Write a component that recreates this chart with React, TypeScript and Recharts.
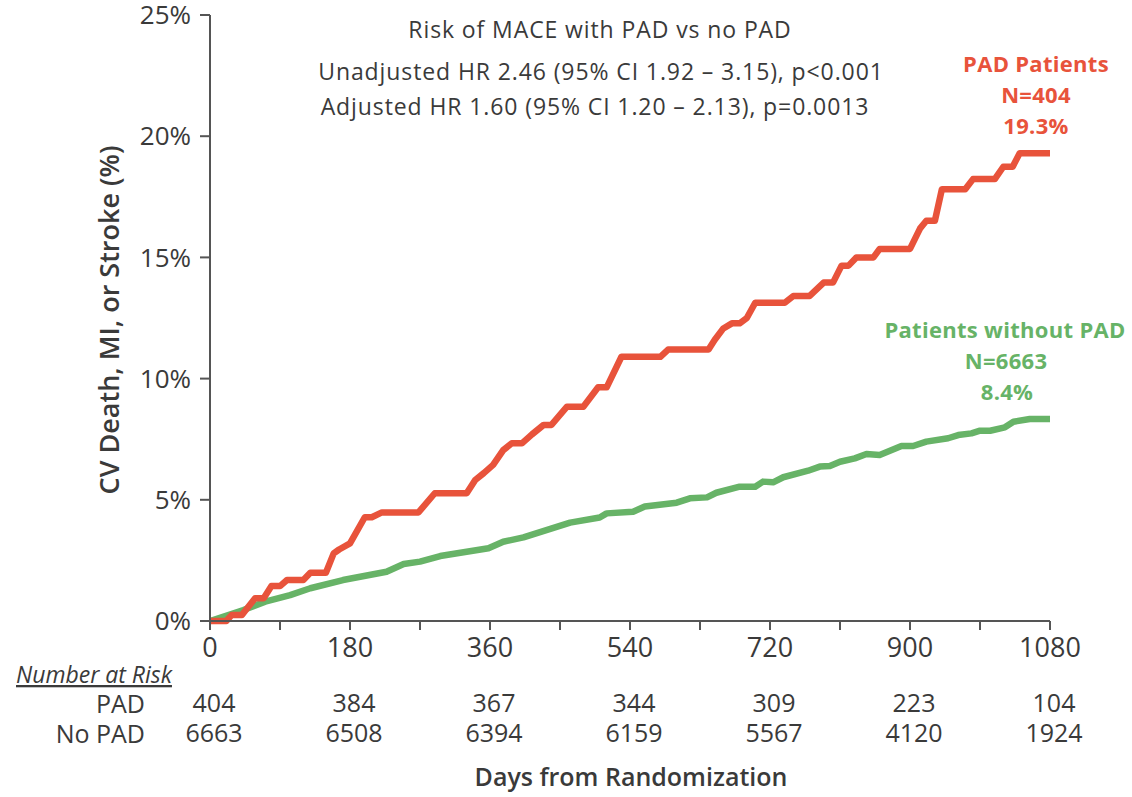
import React from 'react';
import { LineChart, Line, XAxis, YAxis } from 'recharts';

// Kaplan-Meier style cumulative event curves (day, %)
const padDays = [0, 21, 28, 41, 58, 69, 79, 90, 99, 120, 129, 149, 159, 166, 180, 199, 208, 221, 268, 289, 330, 341, 352, 364, 377, 388, 401, 414, 429, 439, 459, 480, 499, 510, 529, 579, 589, 641, 649, 660, 671, 681, 690, 701, 739, 750, 771, 789, 801, 812, 821, 831, 853, 861, 900, 913, 921, 932, 941, 971, 981, 1009, 1020, 1032, 1041, 1080];
const padRisk = [0, 0, 0.25, 0.25, 0.94, 0.94, 1.44, 1.44, 1.69, 1.69, 1.99, 1.99, 2.79, 2.95, 3.2, 4.28, 4.28, 4.48, 4.48, 5.27, 5.27, 5.82, 6.1, 6.44, 7.05, 7.33, 7.33, 7.7, 8.09, 8.09, 8.84, 8.84, 9.64, 9.64, 10.9, 10.9, 11.2, 11.2, 11.6, 12.07, 12.28, 12.28, 12.49, 13.13, 13.13, 13.41, 13.41, 13.96, 13.96, 14.66, 14.66, 15.0, 15.0, 15.35, 15.35, 16.2, 16.51, 16.51, 17.81, 17.81, 18.23, 18.23, 18.74, 18.74, 19.3, 19.3];

const noPadDays = [0, 43, 71, 103, 129, 171, 227, 249, 270, 296, 358, 377, 403, 463, 501, 510, 544, 559, 600, 617, 639, 651, 681, 701, 711, 724, 737, 769, 784, 797, 810, 829, 844, 861, 889, 904, 921, 949, 962, 979, 990, 1003, 1022, 1033, 1054, 1080];
const noPadRisk = [0, 0.45, 0.8, 1.07, 1.35, 1.69, 2.03, 2.35, 2.45, 2.68, 3.0, 3.27, 3.45, 4.06, 4.27, 4.44, 4.51, 4.72, 4.88, 5.06, 5.1, 5.29, 5.54, 5.54, 5.75, 5.72, 5.93, 6.2, 6.37, 6.39, 6.57, 6.71, 6.89, 6.85, 7.22, 7.22, 7.4, 7.54, 7.67, 7.74, 7.85, 7.85, 7.99, 8.22, 8.33, 8.33];

// Number at risk table
const riskDays = [0, 180, 360, 540, 720, 900, 1080];
const padAtRisk = [404, 384, 367, 344, 309, 223, 104];
const noPadAtRisk = [6663, 6508, 6394, 6159, 5567, 4120, 1924];

const xTicks = [0, 90, 180, 270, 360, 450, 540, 630, 720, 810, 900, 990, 1080];
const yTicks = [0, 5, 10, 15, 20, 25];

const RED = '#E8533B';
const GREEN = '#67B367';
const TEXT = '#3a3a3a';
const AXIS = '#555';

const padData = padDays.map((d, i) => ({ day: d, risk: padRisk[i] }));
const noPadData = noPadDays.map((d, i) => ({ day: d, risk: noPadRisk[i] }));

const riskLabel = (values: number[]) => (v: number) => {
  const i = riskDays.indexOf(v);
  return i >= 0 ? String(values[i]) : '';
};

const App: React.FC = () => {
  return (
    <div style={{ position: 'absolute', left: 0, top: 0, width: 1132, height: 797, fontFamily: '"Open Sans", sans-serif', background: '#fff' }}>
      <LineChart width={1132} height={797} margin={{ top: 15, right: 82, left: 130, bottom: 36 }}>
        <XAxis
          type="number"
          dataKey="day"
          domain={[0, 1080]}
          ticks={xTicks}
          interval={0}
          tickFormatter={(v: number) => (v % 180 === 0 ? String(v) : '')}
          height={70}
          tickSize={9}
          tickMargin={8}
          stroke={AXIS}
          strokeWidth={2}
          tick={{ fill: TEXT, fontSize: 27 }}
        />
        <XAxis
          xAxisId="risk1"
          type="number"
          dataKey="day"
          domain={[0, 1080]}
          allowDataOverflow
          ticks={riskDays}
          interval={0}
          tickFormatter={riskLabel(padAtRisk)}
          height={30}
          axisLine={false}
          tickLine={false}
          tickSize={0}
          tickMargin={3}
          tick={{ fill: TEXT, fontSize: 25, dx: 4 }}
        />
        <XAxis
          xAxisId="risk2"
          type="number"
          dataKey="day"
          domain={[0, 1080]}
          allowDataOverflow
          ticks={riskDays}
          interval={0}
          tickFormatter={riskLabel(noPadAtRisk)}
          height={40}
          axisLine={false}
          tickLine={false}
          tickSize={0}
          tickMargin={3}
          tick={{ fill: TEXT, fontSize: 25, dx: 4 }}
        />
        <YAxis
          type="number"
          domain={[0, 25]}
          ticks={yTicks}
          interval={0}
          tickFormatter={(v: number) => `${v}%`}
          width={80}
          tickSize={10}
          tickMargin={9}
          stroke={AXIS}
          strokeWidth={2}
          tick={{ fill: TEXT, fontSize: 26 }}
        />
        <Line data={noPadData} dataKey="risk" type="linear" stroke={GREEN} strokeWidth={6.5} dot={false} isAnimationActive={false} strokeLinejoin="round" />
        <Line data={padData} dataKey="risk" type="linear" stroke={RED} strokeWidth={6.5} dot={false} isAnimationActive={false} strokeLinejoin="round" />
        {/* invisible series so the number-at-risk axes get their domain */}
        <Line xAxisId="risk1" data={padData} dataKey="risk" stroke="none" dot={false} activeDot={false} isAnimationActive={false} />
        <Line xAxisId="risk2" data={noPadData} dataKey="risk" stroke="none" dot={false} activeDot={false} isAnimationActive={false} />
      </LineChart>

      <svg width={1132} height={797} style={{ position: 'absolute', left: 0, top: 0, pointerEvents: 'none' }}>
        <g fill={TEXT} fontSize={23} letterSpacing={0.9} textAnchor="middle">
          <text x={600} y={38}>Risk of MACE with PAD vs no PAD</text>
          <text x={601} y={80}>Unadjusted HR 2.46 (95% CI 1.92 – 3.15), p&lt;0.001</text>
          <text x={595} y={115}>Adjusted HR 1.60 (95% CI 1.20 – 2.13), p=0.0013</text>
        </g>
        <g fill={RED} fontSize={22} fontWeight={700} letterSpacing={0.3} textAnchor="middle">
          <text x={1036} y={72}>PAD Patients</text>
          <text x={1036} y={103}>N=404</text>
          <text x={1036} y={134}>19.3%</text>
        </g>
        <g fill={GREEN} fontSize={22} fontWeight={700} letterSpacing={0.3} textAnchor="middle">
          <text x={1005} y={338}>Patients without PAD</text>
          <text x={1006} y={369}>N=6663</text>
          <text x={1007} y={400}>8.4%</text>
        </g>
        <text x={108} y={320} transform="rotate(-90 108 320)" textAnchor="middle" dominantBaseline="central" fill={TEXT} fontSize={27} fontWeight={600}>
          CV Death, MI, or Stroke (%)
        </text>
        <text x={16} y={683} fill={TEXT} fontSize={23} fontStyle="italic" textDecoration="underline">Number at Risk</text>
        <g fill={TEXT} fontSize={25} textAnchor="end">
          <text x={145} y={713}>PAD</text>
          <text x={145} y={743}>No PAD</text>
        </g>
        <text x={631} y={786} textAnchor="middle" fill={TEXT} fontSize={25} fontWeight={600}>Days from Randomization</text>
      </svg>
    </div>
  );
};

export default App;
